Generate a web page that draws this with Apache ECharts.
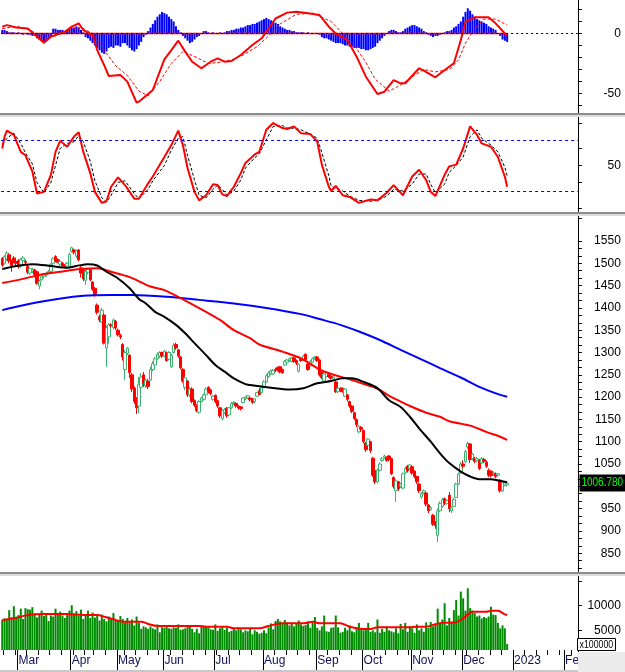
<!DOCTYPE html>
<html><head><meta charset="utf-8">
<script src="https://cdn.jsdelivr.net/npm/echarts@6/dist/echarts.min.js"></script>
<style>html,body{margin:0;padding:0;background:#fff}#c{width:625px;height:672px}</style>
</head><body><div id="c"></div>
<script>
// ---------- categories ----------
const holidays2022 = ['2022-04-11','2022-05-02','2022-05-03','2022-09-01','2022-09-02'];
const firstDay = '2022-02-18', lastDataDay = '2022-12-28', axisEndDay = '2023-02-08';
const monthNames = ['Jan','Feb','Mar','Apr','May','Jun','Jul','Aug','Sep','Oct','Nov','Dec'];

// ---------- candles [open, close, low, high] ----------
const ohlc = [
// Feb
[1511,1496,1492,1514],[1500,1515,1497,1518],[1510,1523,1506,1527],[1519,1505,1500,1522],[1505,1495,1481,1508],[1512,1504,1500,1516],[1504,1500,1496,1507],
// Mar
[1506,1492,1488,1509],[1494,1509,1490,1512],[1506,1512,1503,1516],[1504,1502,1497,1508],[1493,1480,1476,1496],[1478,1488,1474,1490],[1482,1486,1478,1490],
[1485,1475,1470,1488],[1481,1455,1452,1484],[1449,1460,1442,1463],[1463,1470,1460,1473],[1470,1474,1466,1477],[1474,1478,1470,1480],[1478,1482,1475,1485],
[1482,1498,1480,1500],[1500,1510,1497,1514],[1515,1506,1502,1518],[1508,1502,1500,1511],[1498,1504,1494,1506],[1500,1494,1490,1503],[1496,1493,1489,1498],
[1494,1500,1490,1503],[1492,1520,1490,1524],
// Apr
[1527,1535,1524,1537],[1530,1525,1520,1533],[1516,1528,1512,1530],[1530,1508,1504,1532],[1490,1478,1468,1495],[1485,1465,1460,1488],[1462,1482,1452,1488],
[1480,1486,1475,1490],[1485,1463,1460,1488],[1458,1442,1438,1460],[1444,1430,1425,1447],[1406,1390,1385,1410],[1380,1373,1368,1385],[1368,1395,1366,1400],
[1384,1321,1318,1388],[1310,1355,1268,1360],[1335,1362,1320,1366],[1362,1360,1355,1366],[1356,1373,1352,1376],[1370,1355,1350,1373],
// May
[1350,1340,1336,1354],[1338,1335,1330,1342],[1318,1290,1282,1321],[1262,1300,1238,1305],[1298,1310,1294,1312],[1294,1255,1243,1296],[1250,1218,1211,1254],
[1220,1190,1185,1224],[1195,1176,1162,1200],[1180,1228,1164,1245],[1222,1245,1211,1254],[1250,1230,1223,1256],[1225,1238,1220,1242],[1236,1224,1218,1240],
[1238,1262,1236,1268],[1262,1275,1258,1280],[1272,1286,1268,1290],[1286,1296,1284,1300],[1292,1300,1288,1303],[1300,1292,1288,1302],
// Jun
[1292,1303,1290,1306],[1300,1282,1279,1302],[1285,1300,1282,1303],[1268,1294,1265,1297],[1300,1316,1298,1321],[1318,1310,1306,1322],[1306,1292,1288,1308],
[1290,1266,1262,1292],[1262,1236,1232,1265],[1222,1243,1216,1246],[1236,1205,1200,1238],[1205,1218,1200,1222],[1218,1190,1186,1222],[1192,1182,1178,1195],
[1180,1170,1166,1184],[1166,1190,1163,1193],[1190,1198,1188,1201],[1195,1205,1192,1208],[1205,1218,1202,1222],[1222,1212,1208,1224],[1216,1208,1204,1219],
[1195,1202,1192,1205],
// Jul
[1204,1190,1186,1206],[1192,1180,1176,1194],[1176,1158,1153,1178],[1152,1170,1148,1172],[1165,1172,1162,1175],[1175,1158,1154,1178],[1160,1176,1158,1178],
[1176,1185,1174,1189],[1185,1188,1182,1191],[1186,1180,1176,1188],[1180,1176,1172,1182],[1178,1174,1170,1180],[1188,1198,1186,1200],[1196,1200,1193,1203],
[1198,1203,1196,1205],[1198,1194,1190,1200],[1196,1188,1185,1198],[1190,1196,1186,1198],[1202,1210,1200,1212],[1214,1206,1204,1220],[1210,1222,1208,1226],
// Aug
[1222,1234,1220,1238],[1234,1248,1232,1252],[1246,1254,1243,1258],[1252,1258,1249,1262],[1252,1260,1250,1263],[1262,1260,1256,1266],[1266,1262,1258,1269],
[1268,1256,1253,1270],[1262,1255,1252,1264],[1272,1280,1270,1283],[1278,1283,1276,1286],[1282,1286,1279,1289],[1280,1288,1278,1290],[1288,1280,1277,1291],
[1282,1276,1272,1284],[1258,1274,1255,1276],[1285,1282,1279,1288],[1284,1292,1282,1295],[1296,1284,1281,1298],[1274,1262,1259,1276],[1270,1280,1268,1283],
[1278,1286,1276,1289],[1286,1290,1284,1292],
// Sep
[1290,1282,1279,1292],[1283,1250,1246,1285],[1255,1244,1240,1257],[1236,1252,1233,1255],[1246,1255,1244,1258],[1250,1246,1243,1252],[1246,1242,1239,1248],
[1240,1244,1237,1246],[1234,1212,1209,1236],[1212,1220,1209,1222],[1220,1214,1211,1222],[1220,1212,1210,1222],[1202,1218,1200,1220],[1205,1195,1190,1207],
[1190,1180,1176,1192],[1180,1168,1164,1182],[1165,1152,1148,1167],[1150,1138,1133,1152],[1122,1135,1119,1137],[1132,1128,1122,1135],
// Oct
[1125,1100,1096,1127],[1097,1082,1077,1099],[1092,1106,1090,1108],[1100,1080,1075,1102],[1063,1025,1021,1066],[1035,1010,1005,1038],[1010,1036,1007,1040],
[1036,1050,1033,1054],[1058,1062,1055,1066],[1065,1068,1062,1071],[1064,1058,1055,1067],[1068,1060,1056,1070],[1062,1028,1025,1064],[1020,1000,995,1022],
[990,1012,965,1016],[1010,995,990,1012],[1000,1005,996,1008],[996,1028,993,1031],[1030,1040,1028,1044],[1045,1035,1031,1048],[1040,1048,1037,1050],
// Nov
[1044,1030,1026,1046],[1034,1022,1018,1036],[1022,1010,1005,1024],[1005,990,985,1008],[976,984,972,987],[985,990,982,993],[985,960,955,988],
[958,945,940,960],[948,952,945,956],[935,915,911,938],[918,912,905,922],[890,945,875,950],[945,962,942,966],[955,970,952,974],
[972,962,958,975],[962,968,959,971],[980,950,942,987],[945,952,940,955],[955,970,953,974],[975,1005,973,1008],[1005,1028,1003,1031],
[1030,1050,1028,1055],
// Dec
[1050,1045,1040,1058],[1055,1078,1052,1082],[1088,1096,1084,1100],[1095,1060,1052,1097],[1062,1072,1058,1075],[1062,1056,1052,1066],[1058,1062,1054,1066],
[1058,1040,1036,1061],[1052,1062,1050,1066],[1060,1056,1052,1064],[1054,1045,1041,1058],[1036,1025,1021,1040],[1034,1024,1020,1036],[1028,1030,1024,1033],
[1028,1022,1018,1031],[1025,1028,1022,1030],[1014,990,986,1016],[990,1010,987,1013],[1003,1008,1000,1011],[1003,1006.78,999,1010]
];

// ---------- volume (x100000) ----------
const volume = [
7100,7400,7200,9100,7600,9900,7800,
8100,9400,7300,9500,9300,9200,9700,8200,7600,8300,9000,7900,8500,6900,8000,7800,9400,8200,8800,8000,7500,8100,9000,
10100,8400,8900,8000,9200,7300,8300,9000,7500,8600,7600,8100,7000,8200,7300,6800,7800,7300,8500,7000,
6900,7900,7300,6600,7500,6600,7200,6000,7800,6500,5300,5800,5600,5300,5800,5400,5200,6200,4600,5600,
5500,6000,5400,5300,5600,5500,6200,5100,5200,5400,5800,5700,5300,4600,5300,4400,5900,5700,5800,5600,5200,5100,
6200,4900,5400,5600,5100,5500,4700,4900,5300,5000,5600,5200,4600,5000,4800,5300,4200,5000,4700,4300,4500,
5000,4400,5600,6400,5200,6900,7300,6800,6500,7100,6600,6000,6500,5800,6300,7000,6200,5900,6100,6800,5500,6600,7700,
5500,5000,5800,8000,4800,4700,5500,5600,8000,5600,4500,4700,5500,5000,6000,4800,4600,5600,6500,5500,
5000,5200,6500,4700,5000,4600,7200,4500,5300,4700,5800,5000,4800,4600,5400,4400,6300,5200,6500,4700,5800,
5400,4500,6200,5000,5400,4700,6600,5500,6700,5800,6400,9400,6500,7200,10500,6000,7500,6800,9100,11150,8000,12860,
11500,9000,13540,9500,9000,8500,7800,8000,7400,7700,7500,7800,9800,8200,8100,6500,5400,6000,5400,2200
];
// volume moving average read at sample days [dayIndex, value]
const volMA = [[0,7100],[5,7430],[11,8110],[18,8310],[28,8310],[35,8110],[41,8110],[44,7770],[48,7230],[52,6760],[60,6760],[63,6290],[67,5880],[85,5880],
[88,5740],[97,5740],[100,5400],[111,5400],[115,5880],[121,6420],[130,6420],[134,6760],[137,6420],[146,6420],[150,5740],[156,5270],[159,5270],[162,5600],
[176,5600],[179,5740],[183,5740],[186,6080],[190,6560],[195,6560],[199,7430],[203,8780],[209,8780],[211,8990],[214,8990],[217,8240],[218,8100]];

// ---------- price moving averages [dayIndex, value] ----------
const maBlack = [[0,1487],[6,1494],[13,1498],[21,1494],[28,1490],[32,1494],[37,1498],[41,1495],[45,1481],[50,1466],[55,1444],[59,1420],[62,1410],[66,1391],
[70,1380],[75,1362],[79,1343],[83,1321],[88,1294],[92,1272],[96,1257],[100,1242],[105,1229],[107,1227],[116,1221],[124,1217],[130,1220],[136,1231],
[142,1236],[147,1242],[151,1242],[156,1234],[162,1220],[167,1193],[172,1178],[176,1156],[180,1130],[185,1100],[189,1074],[193,1052],[198,1033],
[202,1022],[206,1016],[211,1016],[215,1012],[218,1009]];
const maRed = [[0,1456],[8,1464],[16,1474],[25,1481],[34,1487],[41,1489],[47,1481],[55,1469],[64,1448],[70,1440],[77,1422],[88,1391],[94,1373],[100,1350],
[107,1332],[111,1318],[121,1302],[129,1287],[137,1262],[143,1250],[150,1240],[154,1233],[160,1223],[163,1216],[167,1203],[172,1190],[176,1180],
[183,1165],[189,1156],[193,1146],[202,1136],[209,1122],[215,1111],[218,1104]];
const maBlue = [[0,1395],[16,1413],[35,1427],[47,1429],[56,1429],[71,1425],[85,1418],[100,1410],[114,1400],[129,1386],[137,1375],[146,1362],[154,1347],
[163,1328],[172,1306],[180,1287],[189,1265],[198,1244],[206,1223],[215,1205],[218,1201]];

// ---------- MACD ----------
const macdLine = [[0,5.7],[2,7],[6,5],[11,4.2],[15,-2.6],[18,-7.6],[21,-2.6],[27,1.5],[30,5.7],[33,8.5],[35,2.9],[39,-1.3],[41,-13.8],[44,-26.3],
[46,-35.5],[51,-34.6],[54,-40.1],[58,-57.6],[59,-56.8],[65,-47.1],[70,-21.5],[73,-13.8],[76,-6],[79,-15.1],[82,-23.5],[86,-29],[90,-23.5],[93,-20.7],
[96,-23.5],[99,-22.9],[103,-17.9],[108,-9.6],[112,-4],[115,4.2],[118,12.5],[123,17.4],[127,18.2],[132,16.8],[137,15.4],[141,5.7],[144,0],[149,-5.4],
[153,-19.3],[157,-36],[162,-50.4],[165,-48.5],[169,-38.8],[172,-41.5],[174,-41.5],[180,-29],[182,-31],[187,-36.5],[191,-30.4],[195,-24.8],[198,-5.4],
[200,9.9],[204,13.5],[210,13.5],[213,8.5],[217,0],[218,-1]];
const macdSignal = [[0,4],[6,6],[12,3],[18,-4],[23,-2],[29,3],[34,5],[39,0],[44,-14],[49,-27],[54,-35],[59,-48],[63,-52],[68,-40],[73,-25],[78,-15],
[84,-20],[89,-25],[94,-24],[99,-22],[104,-18],[110,-11],[115,-2],[120,8],[127,16],[134,17],[142,10],[147,0],[152,-10],[157,-24],[161,-38],[167,-48],
[172,-43],[177,-36],[182,-30],[187,-32],[193,-30],[197,-22],[200,-8],[204,4],[208,12],[213,12],[218,7]];
const macdHist = [
3,3,2,1,1,1,0,1,0,-1,0,-1,-1,-2,-2,-4,-5,-6,-7,-6,-4,-3,4,4,3,3,3,2,3,4,5,5,6,5,3,1,-3,-4,-6,-8,-10,-12,-14,-16,-17,-15,
-12,-11,-12,-10,-10,-11,-8,-8,-10,-12,-14,-15,-13,-10,-7,-3,-1,2,5,8,11,14,16,18,17,16,14,12,10,6,3,1,-2,-4,-6,-8,-7,-5,
-3,-2,0,2,2,1,0,1,0,0,1,0,1,2,2,3,3,4,4,5,5,6,7,7,8,8,9,10,11,12,13,12,11,10,9,8,6,5,4,3,3,2,2,1,1,1,1,0,1,
0,0,0,0,-1,-3,-4,-4,-5,-6,-7,-8,-8,-8,-9,-10,-10,-11,-11,-12,-12,-12,-13,-13,-14,-14,-13,-12,-11,-8,-6,-4,-2,0,2,
3,3,2,1,1,2,4,5,6,7,7,6,5,4,2,1,-1,-2,-3,-2,-2,-1,0,1,2,2,3,5,6,8,10,14,18,21,19,16,14,12,11,10,9,8,6,5,4,3,0,-2,-5,-6,-7
];

// ---------- Stochastic ----------
const stochK = [[0,70],[1,84],[2,91],[5,86],[8,66],[10,62],[13,43],[15,17],[18,19],[21,39],[23,66],[25,79],[28,72],[31,84],[33,89],[35,66],[38,41],
[40,19],[43,6],[45,8],[47,25],[50,36],[53,27],[57,11],[59,11],[63,29],[65,37],[70,60],[73,74],[76,91],[78,74],[80,47],[83,19],[85,9],[88,15],[91,28],
[93,27],[95,16],[97,14],[100,25],[103,41],[105,53],[109,63],[111,66],[114,92],[117,100],[121,94],[123,93],[126,96],[129,88],[133,87],[136,78],[138,51],
[141,25],[142,20],[144,26],[147,15],[150,13],[154,6],[159,10],[162,9],[166,18],[169,27],[173,15],[177,37],[180,45],[183,33],[185,19],[187,14],[191,39],
[193,49],[196,51],[199,70],[202,96],[205,86],[207,76],[211,72],[214,60],[217,37],[218,25]];
const stochD = [[0,75],[2,82],[5,88],[8,76],[10,65],[13,52],[15,30],[18,18],[21,30],[23,50],[25,70],[28,76],[31,78],[33,85],[35,78],[38,55],[40,32],
[43,12],[45,7],[47,15],[50,30],[53,32],[57,17],[59,11],[63,22],[65,32],[70,50],[73,68],[76,82],[78,84],[80,62],[83,33],[85,15],[88,12],[91,22],[93,27],
[95,22],[97,15],[100,20],[103,33],[105,47],[109,59],[111,64],[114,80],[117,96],[121,97],[123,94],[126,94],[129,92],[133,87],[136,82],[138,65],[141,38],
[142,26],[144,23],[147,20],[150,14],[154,9],[159,8],[162,9],[166,14],[169,22],[173,20],[177,28],[180,40],[183,40],[185,28],[187,18],[191,28],[193,42],
[196,50],[199,60],[202,84],[205,92],[207,82],[211,74],[214,66],[217,48],[218,38]];

// ---------- tick labels ----------
const macdTicks = [-60,-50,-40,-30,-20,-10,0,10,20];
const macdLabels = [-50,0];
const stochTicks = [0,30,50,70,100];
const stochLabels = [50];
const stochLevels = [80,20];
const priceLabels = [850,900,950,1000,1050,1100,1150,1200,1250,1300,1350,1400,1450,1500,1550];
const volTicks = [5000,10000,15000];
const volLabels = [5000,10000];

// ---------- build ----------
function buildDays(){
  const out=[]; let t=Date.UTC(2022,1,18); const end=Date.UTC(2023,1,8);
  while(t<=end){ const d=new Date(t); const w=d.getUTCDay(); const s=d.toISOString().slice(0,10);
    if(w!==0&&w!==6&&holidays2022.indexOf(s)<0) out.push(s); t+=86400000; }
  return out;
}
const days = buildDays();
const lastIdx = days.indexOf(lastDataDay);
const monthStart = days.map((d,i)=> i>0 && d.slice(5,7)!==days[i-1].slice(5,7));
const weekStart = days.map((d,i)=> i>0 && new Date(d+'T00:00:00Z').getUTCDay() < new Date(days[i-1]+'T00:00:00Z').getUTCDay());
const priceTicks = [];
for (let k=0;k<priceLabels.length;k++){ const v=priceLabels[k]; priceTicks.push(v-100/3, v-50/3, v); }
priceTicks.push(1600);

const FONT = 'Liberation Sans, Arial, sans-serif';
const GL = 1.1, GW = 576.7;
function rightAxis(grid, min, max, ticks, labels){
  return { type:'value', gridIndex:grid, position:'right', min:min, max:max, scale:true,
    axisLine:{show:true, lineStyle:{color:'#000', width:1}},
    axisTick:{show:true, length:4, customValues:ticks, lineStyle:{color:'#000'}},
    axisLabel:{show:true, customValues:labels, align:'right', margin:43, color:'#000', fontSize:12, fontFamily:FONT,
      formatter:(v)=>String(v)},
    splitLine:{show:false} };
}
const hiddenX = g => ({type:'category', gridIndex:g, data:days, boundaryGap:true, show:false});

const option = {
  animation:false, backgroundColor:'#ffffff',
  grid:[
    {left:GL, width:GW, top:0, height:113},
    {left:GL, width:GW, top:117, height:95},
    {left:GL, width:GW, top:216, height:356},
    {left:GL, width:GW, top:576, height:74}
  ],
  xAxis:[hiddenX(0), hiddenX(1), hiddenX(2),
    {type:'category', gridIndex:3, data:days, boundaryGap:true, position:'bottom',
     axisLine:{show:false, onZero:false}, axisTick:{show:true, interval:(i)=>weekStart[i], length:5, lineStyle:{color:'#000'}},
     axisLabel:{show:false}, splitLine:{show:false}},
    {type:'category', gridIndex:3, data:days, boundaryGap:true, position:'bottom',
     axisLine:{show:false, onZero:false}, axisTick:{show:true, interval:(i)=>monthStart[i], length:20, lineStyle:{color:'#000'}},
     axisLabel:{show:true, interval:(i)=>monthStart[i], align:'left', margin:5,
       color:'#10105a', fontSize:12, fontFamily:FONT,
       formatter:(v)=>{ const m=+v.slice(5,7); return m===1 ? v.slice(0,4) : monthNames[m-1]; }},
     splitLine:{show:false}}
  ],
  yAxis:[
    rightAxis(0, -66.25, 27.92, macdTicks, macdLabels),
    rightAxis(1, -4.7, 107.06, stochTicks, stochLabels),
    rightAxis(2, 807.85, 1606.05, priceTicks, priceLabels),
    rightAxis(3, 996, 16037, volTicks, volLabels)
  ],
  series:[
    {type:'bar', xAxisIndex:0, yAxisIndex:0, data:macdHist, barWidth:2, itemStyle:{color:'#0000ff'},
     markLine:{silent:true, symbol:'none', label:{show:false}, lineStyle:{color:'#000', type:[2,3], width:1}, data:[{yAxis:0}]}},
    {type:'line', xAxisIndex:0, yAxisIndex:0, data:[[0,0],[lastIdx,0]], symbol:'none', lineStyle:{color:'#ff0000', width:1.5}},
    {type:'line', xAxisIndex:0, yAxisIndex:0, data:macdSignal, symbol:'none', lineStyle:{color:'#ff0000', width:1, type:[3,2]}},
    {type:'line', xAxisIndex:0, yAxisIndex:0, data:macdLine, symbol:'none', lineStyle:{color:'#ff0000', width:2}},
    {type:'line', xAxisIndex:1, yAxisIndex:1, data:stochD, symbol:'none', lineStyle:{color:'#000', width:1, type:[3,2]},
     markLine:{silent:true, symbol:'none', label:{show:false}, lineStyle:{color:'#0000ff', type:[3,3], width:1}, data:stochLevels.map(v=>({yAxis:v}))}},
    {type:'line', xAxisIndex:1, yAxisIndex:1, data:stochK, symbol:'none', lineStyle:{color:'#ff0000', width:2}},
    {type:'candlestick', xAxisIndex:2, yAxisIndex:2, data:ohlc, barWidth:3,
     itemStyle:{color:'#ffffff', color0:'#ff0000', borderColor:'#3cb371', borderColor0:'#ff0000', borderWidth:1}},
    {type:'line', xAxisIndex:2, yAxisIndex:2, data:maBlue, symbol:'none', smooth:0.3, lineStyle:{color:'#0000ff', width:2}},
    {type:'line', xAxisIndex:2, yAxisIndex:2, data:maRed, symbol:'none', smooth:0.3, lineStyle:{color:'#ff0000', width:2}},
    {type:'line', xAxisIndex:2, yAxisIndex:2, data:maBlack, symbol:'none', smooth:0.3, lineStyle:{color:'#000000', width:2}},
    {type:'bar', xAxisIndex:4, yAxisIndex:3, data:volume, barWidth:2, itemStyle:{color:'#008c00'}},
    {type:'line', xAxisIndex:4, yAxisIndex:3, data:volMA, symbol:'none', smooth:0.3, lineStyle:{color:'#ff0000', width:2}}
  ],
  graphic:[
    {type:'rect', id:'s1a', shape:{x:0,y:113,width:625,height:2}, style:{fill:'#8c8c8c'}, z:100},
    {type:'rect', id:'s1b', shape:{x:0,y:115,width:625,height:2}, style:{fill:'#dcdcdc'}, z:100},
    {type:'rect', id:'s2a', shape:{x:0,y:212,width:625,height:2}, style:{fill:'#8c8c8c'}, z:100},
    {type:'rect', id:'s2b', shape:{x:0,y:214,width:625,height:2}, style:{fill:'#dcdcdc'}, z:100},
    {type:'rect', id:'s3a', shape:{x:0,y:572,width:625,height:2}, style:{fill:'#8c8c8c'}, z:100},
    {type:'rect', id:'s3b', shape:{x:0,y:574,width:625,height:2}, style:{fill:'#dcdcdc'}, z:100},
    {type:'rect', id:'bot', shape:{x:0,y:670,width:625,height:2}, style:{fill:'#c8c8c8'}, z:100},
    {type:'rect', id:'corner', shape:{x:578,y:652,width:47,height:20}, style:{fill:'#ececec'}, z:101},
    {type:'rect', id:'unitbox', shape:{x:577.5,y:638.5,width:38,height:12}, style:{fill:'#ffffff', stroke:'#000', lineWidth:1}, z:101},
    {type:'text', id:'unittxt', x:579.5, y:644.5, scaleX:0.8, style:{text:'x100000', x:0, y:0, fill:'#000', font:'11px '+FONT, textAlign:'left', textVerticalAlign:'middle', align:'left', verticalAlign:'middle'}, z:102}
  ]
};
const chart = echarts.init(document.getElementById('c'), null, {renderer:'canvas'});
chart.setOption(option);
const lastClose = ohlc[lastIdx][1];
const p = chart.convertToPixel({gridIndex:2}, [lastIdx, lastClose]);
chart.setOption({graphic:[
  {type:'rect', id:'lpbox', shape:{x:579.5, y:Math.round(p[1])-8.5, width:46, height:17}, style:{fill:'#000'}, z:103},
  {type:'text', id:'lptxt', x:581.5, y:Math.round(p[1]), scaleX:0.83, style:{text:lastClose.toFixed(3), x:0, y:0, fill:'#00ff00', font:'12px '+FONT, textAlign:'left', textVerticalAlign:'middle', align:'left', verticalAlign:'middle'}, z:104}
]});
</script></body></html>
